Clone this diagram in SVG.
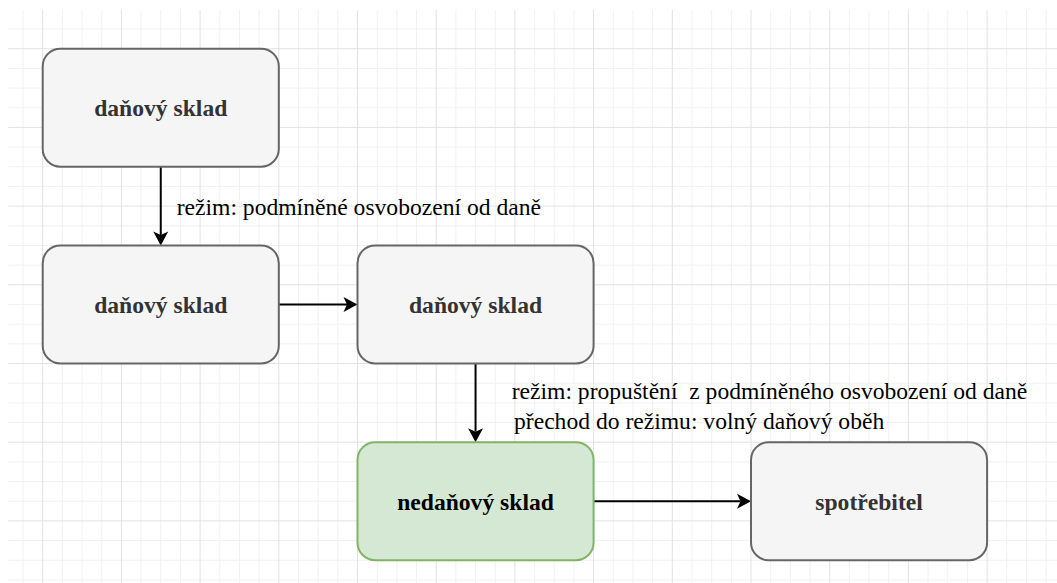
<svg xmlns="http://www.w3.org/2000/svg" width="1057" height="583" viewBox="0 0 1057 583">
<style>
.minor{stroke:#f1f1f1;stroke-width:1;fill:none}
.major{stroke:#e2e2e2;stroke-width:1;fill:none}
.box{fill:#f5f5f5;stroke:#666666;stroke-width:2}
.green{fill:#d5e8d4;stroke:#82b366;stroke-width:2}
.lbl{font-family:"Liberation Serif","Times New Roman",serif;font-size:23.6px;font-weight:bold;text-anchor:middle;fill:#333333}
.elbl{font-family:"Liberation Serif","Times New Roman",serif;font-size:23.6px;fill:#000000}
.edge{stroke:#000000;stroke-width:2;fill:none;marker-end:url(#arr)}
</style>
<defs>
<marker id="arr" markerUnits="userSpaceOnUse" markerWidth="15" markerHeight="16" refX="3.5" refY="7.5" orient="auto" overflow="visible">
<path d="M0,0 L14,7.5 L0,15 L3.5,7.5 Z" fill="#000000"/>
</marker>
</defs>
<rect x="0" y="0" width="1057" height="583" fill="#ffffff"/>
<g id="grid">
<path class="minor" d="M23.03 10V583M62.38 10V583M82.05 10V583M101.73 10V583M141.08 10V583M160.75 10V583M180.43 10V583M219.78 10V583M239.45 10V583M259.13 10V583M298.48 10V583M318.15 10V583M337.83 10V583M377.18 10V583M396.85 10V583M416.53 10V583M455.88 10V583M475.55 10V583M495.23 10V583M534.58 10V583M554.25 10V583M573.93 10V583M613.28 10V583M632.95 10V583M652.63 10V583M691.98 10V583M711.65 10V583M731.33 10V583M770.68 10V583M790.35 10V583M810.03 10V583M849.38 10V583M869.05 10V583M888.73 10V583M928.08 10V583M947.75 10V583M967.43 10V583M1006.78 10V583M1026.45 10V583M1046.13 10V583"/>
<path class="minor" d="M8 29.03H1057M8 68.38H1057M8 88.05H1057M8 107.73H1057M8 147.08H1057M8 166.75H1057M8 186.43H1057M8 225.78H1057M8 245.45H1057M8 265.13H1057M8 304.48H1057M8 324.15H1057M8 343.83H1057M8 383.18H1057M8 402.85H1057M8 422.53H1057M8 461.88H1057M8 481.55H1057M8 501.23H1057M8 540.58H1057M8 560.25H1057M8 579.93H1057"/>
<path class="major" d="M42.7 10V583M121.4 10V583M200.1 10V583M278.8 10V583M357.5 10V583M436.2 10V583M514.9 10V583M593.6 10V583M672.3 10V583M751 10V583M829.7 10V583M908.4 10V583M987.1 10V583"/>
<path class="major" d="M8 48.7H1057M8 127.4H1057M8 206.1H1057M8 284.8H1057M8 363.5H1057M8 442.2H1057M8 520.9H1057"/>
</g>
<g id="connectors">
<path class="edge" d="M160.75 166.75V234.95"/>
<path class="edge" d="M278.8 304.48H347"/>
<path class="edge" d="M475.55 363.5V431.7"/>
<path class="edge" d="M593.6 501.23H740.5"/>
<text class="elbl" x="176.7" y="215">režim: podmíněné osvobození od daně</text>
<text class="elbl" x="511.7" y="398.5" xml:space="preserve">režim: propuštění  z podmíněného osvobození od daně</text>
<text class="elbl" x="514" y="428.5">přechod do režimu: volný daňový oběh</text>
</g>
<g id="node1">
<rect class="box" x="42.7" y="48.7" width="236.1" height="118.05" rx="17.7"/>
<text class="lbl" x="160.75" y="116">daňový sklad</text>
</g>
<g id="node2">
<rect class="box" x="42.7" y="245.45" width="236.1" height="118.05" rx="17.7"/>
<text class="lbl" x="160.75" y="312.7">daňový sklad</text>
</g>
<g id="node3">
<rect class="box" x="357.5" y="245.45" width="236.1" height="118.05" rx="17.7"/>
<text class="lbl" x="475.55" y="312.7">daňový sklad</text>
</g>
<g id="node4">
<rect class="green" x="357.5" y="442.2" width="236.1" height="118.05" rx="17.7"/>
<text class="lbl" x="475.55" y="509.5" style="fill:#000000">nedaňový sklad</text>
</g>
<g id="node5">
<rect class="box" x="751" y="442.2" width="236.1" height="118.05" rx="17.7"/>
<text class="lbl" x="869.05" y="509.5">spotřebitel</text>
</g>
</svg>
